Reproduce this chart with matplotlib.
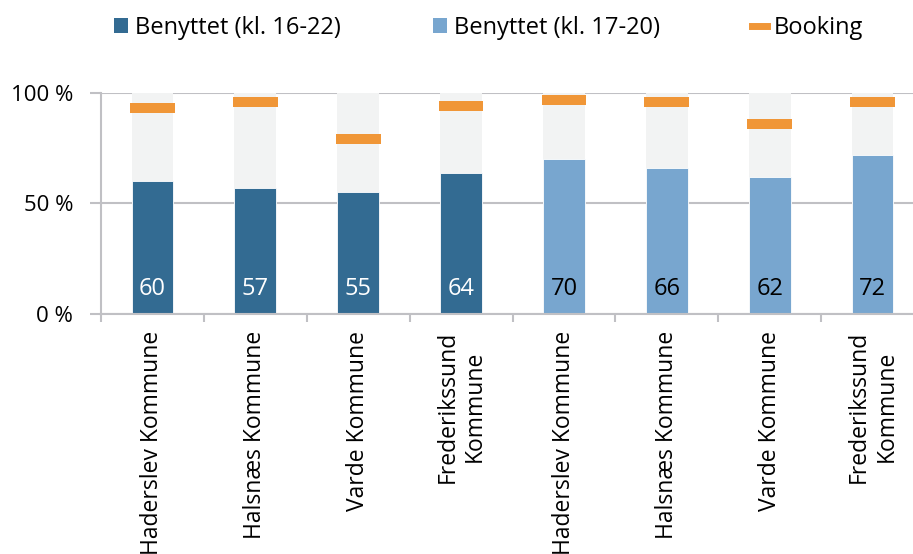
import matplotlib.pyplot as plt
from matplotlib.lines import Line2D
from matplotlib.patches import Patch

plt.rcParams['font.family'] = ['Open Sans', 'DejaVu Sans']

kommuner = ["Haderslev Kommune", "Halsnæs Kommune", "Varde Kommune", "Frederikssund\nKommune"]
labels = kommuner + kommuner
benyttet_16_22 = [60, 57, 55, 64]
benyttet_17_20 = [70, 66, 62, 72]
booking = [93, 96, 79, 94, 97, 96, 86, 96]

dark = "#336b92"
light = "#78a6cf"
orange = "#f09637"
bg = "#f2f3f3"
grid = "#c0c0c4"

values = benyttet_16_22 + benyttet_17_20
colors = [dark] * 4 + [light] * 4
x = list(range(len(values)))

fig = plt.figure(figsize=(9.13, 5.54), dpi=100)
ax = fig.add_axes([0.1106, 0.4332, 0.9015, 0.399])

ax.bar(x, [100] * len(x), width=0.405, color=bg, zorder=1)
ax.bar(x, values, width=0.405, color=colors, edgecolor="white", linewidth=0.6, zorder=2)
ax.bar(x, [4.5] * len(x), bottom=[b - 2.25 for b in booking], width=0.435, color=orange, zorder=3)

for i, v in enumerate(values):
    ax.text(i, 11.5, str(v), ha="center", va="center", fontsize=17,
            color="white" if i < 4 else "black", zorder=4)

ax.set_xlim(-0.5, 7.5)
ax.set_ylim(0, 100)
ax.set_yticks([0, 50, 100])
ax.set_yticklabels(["0 %", "50 %", "100 %"], fontsize=16)
ax.yaxis.grid(True, color=grid, linewidth=1.5, zorder=0)
ax.set_axisbelow(True)

ax.set_xticks(x)
ax.set_xticklabels(labels, rotation=90, fontsize=16.5, ha="center", va="top")
ax.set_xticks([i + 0.5 for i in range(-1, 8)], minor=True)
ax.tick_params(axis="x", which="major", length=0, pad=12)
ax.tick_params(axis="x", which="minor", length=6, color=grid, width=1.5)
ax.tick_params(axis="y", length=8, color=grid, width=1.5, pad=12)

for s in ["top", "right"]:
    ax.spines[s].set_visible(False)
for s in ["left", "bottom"]:
    ax.spines[s].set_color(grid)
    ax.spines[s].set_linewidth(1.5)

handles = [
    Patch(facecolor=dark, label="Benyttet (kl. 16-22)"),
    Patch(facecolor=light, label="Benyttet (kl. 17-20)"),
    Line2D([0], [0], color=orange, linewidth=5, label="Booking"),
]
fig.legend(handles=handles, loc="center", bbox_to_anchor=(0.535, 0.95), ncol=3,
           frameon=False, fontsize=17, handlelength=0.6, handleheight=0.6,
           handletextpad=0.3, columnspacing=3.9)

fig.savefig("out.png", dpi=100)
